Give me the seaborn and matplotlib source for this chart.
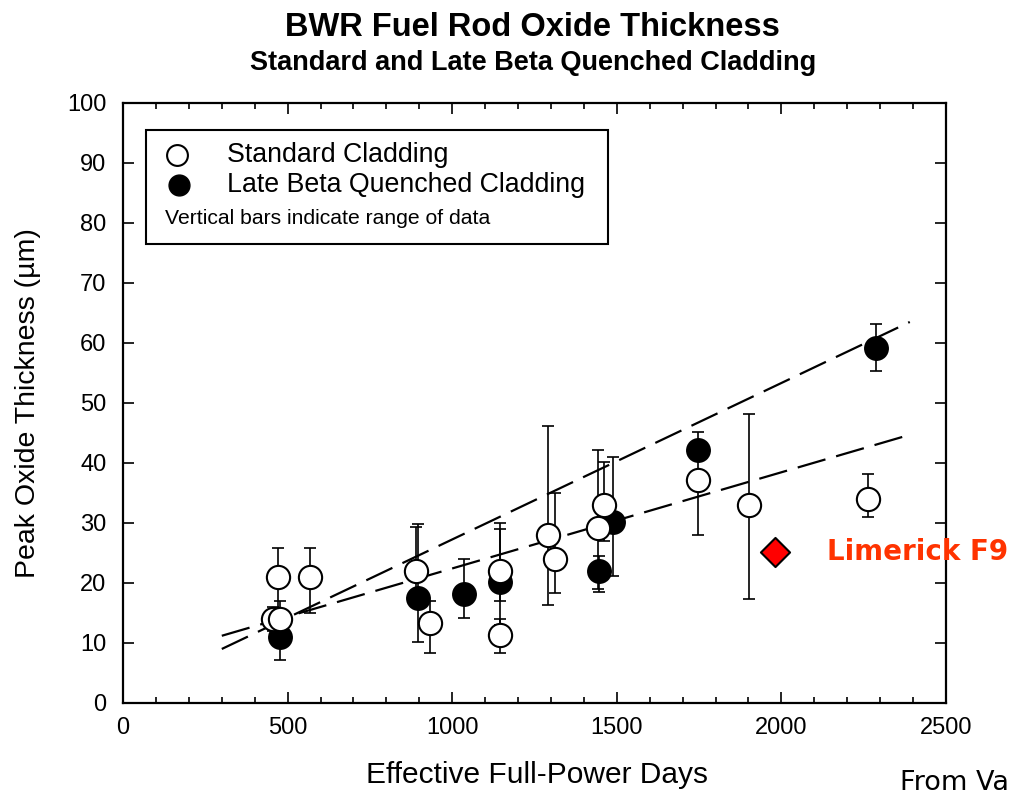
import numpy as np
import pandas as pd
import seaborn as sns
import matplotlib
matplotlib.use("Agg")
import matplotlib.pyplot as plt
from matplotlib.patches import Rectangle
from matplotlib.ticker import MultipleLocator

# Standard cladding: EFPD, peak oxide (µm), range low/high
std_x = [455, 478, 471, 568, 890, 933, 1145, 1145, 1291, 1312, 1443, 1460, 1747, 1902, 2263]
std_y = [14, 14, 21, 21, 22, 13.3, 22, 11.3, 28, 24, 29.2, 33, 37.2, 33, 34]
std_lo = [12, 12, 15, 15, 17, 8.3, 17, 8.3, 16.3, 18.3, 19, 27, 28, 17.3, 31]
std_hi = [16, 17, 25.8, 25.8, 29.3, 17, 29, 14, 46.2, 35, 42.2, 40.2, 40.5, 48.2, 38.2]

# Late beta quenched cladding
lbq_x = [477, 896, 1036, 1145, 1446, 1489, 1747, 2287]
lbq_y = [11, 17.5, 18.2, 20.2, 22, 30.2, 42.2, 59.2]
lbq_lo = [7.2, 10.2, 14.2, 13, 18.5, 21.2, 40.5, 55.3]
lbq_hi = [14, 29.8, 24, 30, 24.5, 41, 45.2, 63.2]

# Trend lines (end points)
fit_x = [300, 2390]
std_fit = [11.2, 44.7]
lbq_fit = [9.0, 63.5]

# Limerick F9 point
lim_x = [1980]
lim_y = [25.2]

sns.set_theme(style="ticks")
plt.rcParams["font.family"] = ["Liberation Sans", "DejaVu Sans"]
plt.rcParams.update({"text.color": "black", "axes.labelcolor": "black",
                     "xtick.color": "black", "ytick.color": "black"})

fig = plt.figure(figsize=(10.11, 7.92), dpi=100)
ax = fig.add_axes([0.1217, 0.1124, 0.8140, 0.7576])

std_df = pd.DataFrame({"x": std_x, "y": std_y})
lbq_df = pd.DataFrame({"x": lbq_x, "y": lbq_y})

# range bars
for xs, ys, lo, hi in [(std_x, std_y, std_lo, std_hi), (lbq_x, lbq_y, lbq_lo, lbq_hi)]:
    ys = np.array(ys)
    yerr = [ys - np.array(lo), np.array(hi) - ys]
    ax.errorbar(xs, ys, yerr=yerr, fmt="none", ecolor="black", elinewidth=1.2,
                capsize=4.5, capthick=1.2, zorder=2)

# dashed trend lines
dash = (13, 5)
sns.lineplot(x=fit_x, y=std_fit, ax=ax, color="black", lw=1.6, zorder=3).lines[-1].set_dashes(dash)
sns.lineplot(x=fit_x, y=lbq_fit, ax=ax, color="black", lw=1.6, zorder=3).lines[-1].set_dashes(dash)

sns.scatterplot(data=lbq_df, x="x", y="y", ax=ax, s=280, color="black",
                edgecolor="black", linewidth=1.2, zorder=4)
sns.scatterplot(data=std_df, x="x", y="y", ax=ax, s=280, color="white",
                edgecolor="black", linewidth=1.5, zorder=5)

# Limerick point
ax.scatter(lim_x, lim_y, marker="D", s=220, color="#ff0000", edgecolor="black",
           linewidth=1.5, zorder=6)
ax.text(2139, lim_y[0], "Limerick F9", color="#ff3300", fontsize=20,
        fontweight="bold", family=["DejaVu Sans"], va="center", ha="left",
        clip_on=False)

ax.set_xlim(0, 2500)
ax.set_ylim(0, 100)
ax.xaxis.set_major_locator(MultipleLocator(500))
ax.xaxis.set_minor_locator(MultipleLocator(100))
ax.yaxis.set_major_locator(MultipleLocator(10))
ax.tick_params(which="both", direction="in", top=True, right=True, colors="black",
               width=1.2, labelsize=17, pad=10)
ax.tick_params(axis="y", pad=12)
ax.tick_params(which="major", length=8)
ax.tick_params(which="minor", length=4)
for sp in ax.spines.values():
    sp.set_linewidth(1.6)
    sp.set_color("black")

ax.set_xlabel("Effective Full-Power Days", fontsize=21.5)
ax.set_ylabel("Peak Oxide Thickness (µm)", fontsize=20.5)
ax.xaxis.set_label_coords(0.503, -0.097)
ax.yaxis.set_label_coords(-0.10, 0.5)

# legend box
ax.add_patch(Rectangle((0.028, 0.765), 0.561, 0.19, transform=ax.transAxes,
                       facecolor="white", edgecolor="black", lw=1.5, zorder=7))
ax.plot([0.0656], [0.913], "o", ms=15, mfc="white", mec="black", mew=1.5,
        transform=ax.transAxes, zorder=8, clip_on=False)
ax.plot([0.068], [0.863], "o", ms=15, mfc="black", mec="black",
        transform=ax.transAxes, zorder=8, clip_on=False)
ax.text(0.1264, 0.913, "Standard Cladding", transform=ax.transAxes, fontsize=19.3,
        va="center", ha="left", zorder=8)
ax.text(0.1264, 0.863, "Late Beta Quenched Cladding", transform=ax.transAxes,
        fontsize=19.3, va="center", ha="left", zorder=8)
ax.text(0.051, 0.808, "Vertical bars indicate range of data", transform=ax.transAxes,
        fontsize=15.2, va="center", ha="left", zorder=8)

fig.text(0.527, 0.965, "BWR Fuel Rod Oxide Thickness", fontsize=23.5,
         fontweight="bold", ha="center", va="center")
fig.text(0.527, 0.920, "Standard and Late Beta Quenched Cladding", fontsize=19.5,
         fontweight="bold", ha="center", va="center")
fig.text(0.890, 0.003, "From Va", fontsize=19.5, family=["DejaVu Sans"],
         ha="left", va="baseline")

fig.savefig("out.png", dpi=100)
